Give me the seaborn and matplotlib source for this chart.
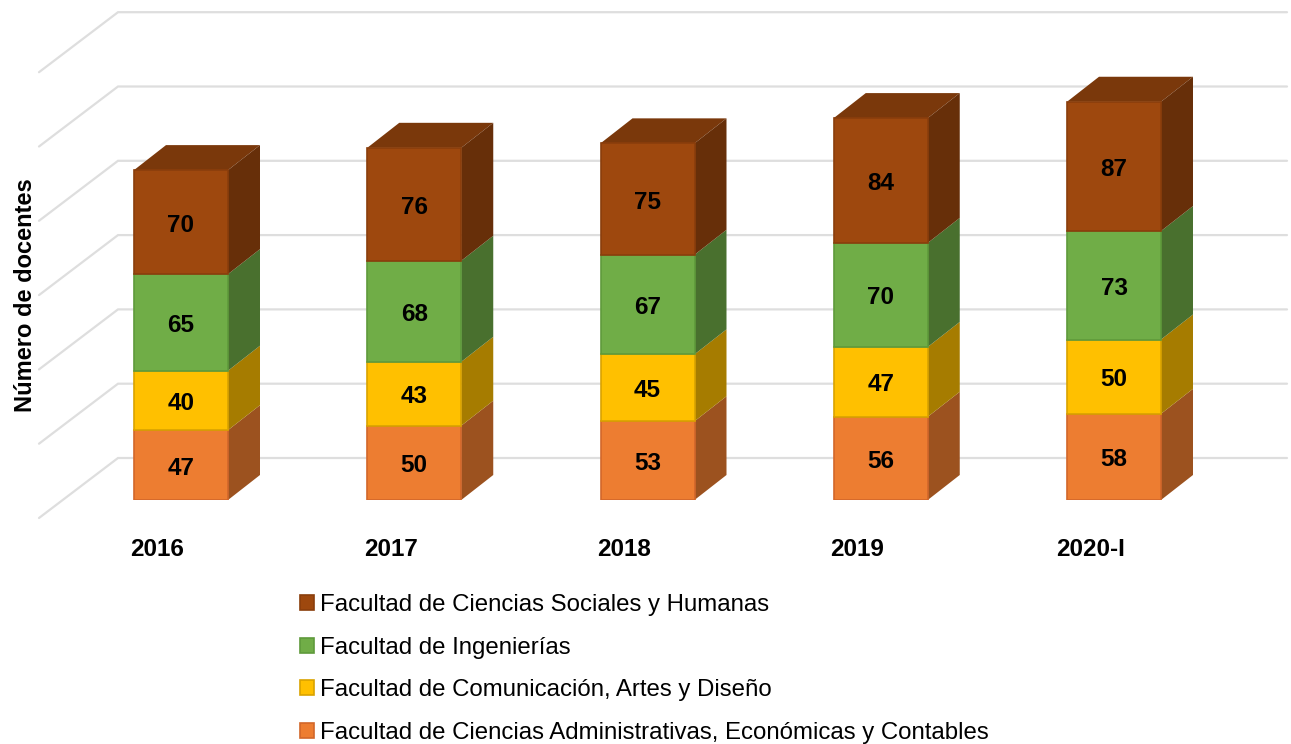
import pandas as pd
import seaborn as sns
import matplotlib.pyplot as plt
from matplotlib.patches import Polygon
from matplotlib.transforms import ScaledTranslation

anios = ["2016", "2017", "2018", "2019", "2020-I"]
administrativas = [47, 50, 53, 56, 58]
comunicacion = [40, 43, 45, 47, 50]
ingenierias = [65, 68, 67, 70, 73]
sociales = [70, 76, 75, 84, 87]
niveles = [0, 50, 100, 150, 200, 250, 300]

nombres = [
    "Facultad de Ciencias Administrativas, Económicas y Contables",
    "Facultad de Comunicación, Artes y Diseño",
    "Facultad de Ingenierías",
    "Facultad de Ciencias Sociales y Humanas",
]
series = [administrativas, comunicacion, ingenierias, sociales]
frente = ["#ED7D31", "#FFC000", "#70AD47", "#9E480E"]
borde = ["#D2672A", "#D9A300", "#5F9A3B", "#8A3E0C"]
lado = ["#9C521F", "#A67C00", "#49702E", "#672F09"]
tapa = "#7A380B"

# pixel scale of the reference
PX_X = 233.25
PX_Y = 1.486
ancho = 94 / PX_X
prof_x, prof_y = 32 / PX_X, 25 / PX_Y      # depth of each bar
pared_x, pared_y = 79 / PX_X, 60 / PX_Y    # depth of the floor
fondo_y = 42 / PX_Y                        # back wall height above bar base
gris = "#DEDEDE"

sns.set_theme(style="white")
plt.rcParams["font.family"] = ["Liberation Sans", "DejaVu Sans"]

df = pd.DataFrame({"anio": anios})
fig = plt.figure(figsize=(12.91, 7.44), dpi=100)
ax = fig.add_axes([0, 244 / 744, 1, 500 / 744])

# stacked front faces
base = [0] * len(anios)
bases = []
for i, valores in enumerate(series):
    df["valor"] = valores
    sns.barplot(data=df, x="anio", y="valor", bottom=base, width=ancho,
                color=frente[i], saturation=1, edgecolor=borde[i], linewidth=1.2,
                label=nombres[i], zorder=3, ax=ax)
    bases.append(base)
    base = [b + v for b, v in zip(base, valores)]

# side and top faces of the bars
for i, valores in enumerate(series):
    for j, v in enumerate(valores):
        x1 = j + ancho / 2
        y0 = bases[i][j]
        y1 = y0 + v
        ax.add_patch(Polygon([(x1, y0), (x1 + prof_x, y0 + prof_y),
                              (x1 + prof_x, y1 + prof_y), (x1, y1)],
                             facecolor=lado[i], edgecolor="none", zorder=2.5 + i * 0.01,
                             clip_on=False))
        if i == len(series) - 1:
            x0 = j - ancho / 2
            ax.add_patch(Polygon([(x0, y1), (x1, y1), (x1 + prof_x, y1 + prof_y),
                                  (x0 + prof_x, y1 + prof_y)],
                                 facecolor=tapa, edgecolor="none", zorder=2.5, clip_on=False))

# back wall gridlines and floor diagonals
x_izq = (118 - 181) / PX_X
x_der = (1287 - 181) / PX_X
for n in niveles:
    y = n + fondo_y
    ax.plot([x_izq - pared_x, x_izq, x_der], [y - pared_y, y, y], color=gris, lw=1.6,
            zorder=1, clip_on=False, solid_joinstyle="miter")

for cont in ax.containers:
    ax.bar_label(cont, label_type="center", padding=-2.2, fontsize=17.5, fontweight="bold", color="black")

ax.set_xlim(-181 / PX_X, (1291 - 181) / PX_X)
ax.set_ylim(0, 500 / PX_Y)
ax.set_yticks([])
ax.set_xticks(range(len(anios)))
ax.set_xticklabels(anios, fontsize=17.5, fontweight="bold", color="black")
ax.tick_params(axis="x", length=0, pad=27)
ax.set_xlabel("")
ax.set_ylabel("Número de docentes", fontsize=17, fontweight="bold", color="black")
ax.yaxis.set_label_coords(37 / 1291, 205 / 500)
sns.despine(ax=ax, left=True, bottom=True, top=True, right=True)

# tick labels sit left of the bars in the reference
desplazar = ScaledTranslation(-23.5 / 100, 0, fig.dpi_scale_trans)
for etiqueta in ax.get_xticklabels():
    etiqueta.set_transform(etiqueta.get_transform() + desplazar)

handles, labels = ax.get_legend_handles_labels()
ax.legend(handles[::-1], labels[::-1], loc="upper left", bbox_to_anchor=(300 / 1291, 1 - 594 / 744),
          bbox_transform=fig.transFigure, frameon=False, fontsize=17.3, borderpad=0, borderaxespad=0,
          handlelength=0.6, handleheight=0.6, handletextpad=0.22, labelspacing=0.86,
          labelcolor="black")

fig.savefig("out.png", dpi=100)
